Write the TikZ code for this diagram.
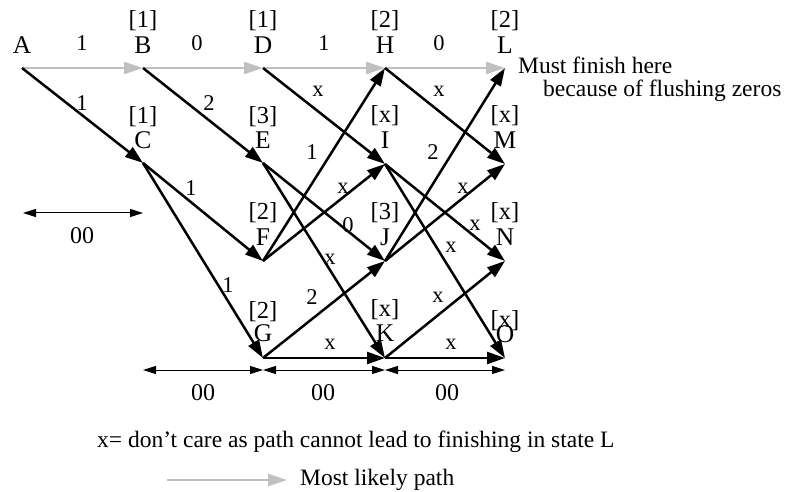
\documentclass[tikz,border=0pt]{standalone}
\usepackage{fontspec}
\setmainfont{Liberation Serif}
\usetikzlibrary{arrows.meta}
\definecolor{pathgray}{RGB}{192,192,192}
\tikzset{
  edge/.style={line width=2.5pt, -{Triangle[length=18pt,width=12pt]}},
  best/.style={line width=2.5pt, draw=pathgray, -{Triangle[length=19pt,width=12pt,fill=pathgray]}},
  dim/.style={line width=1pt, {Triangle[length=13pt,width=8pt]}-{Triangle[length=13pt,width=8pt]}},
  nm/.style={inner sep=0pt, font=\fontsize{25.5}{30}\selectfont},
  br/.style={inner sep=0pt, font=\fontsize{24.5}{30}\selectfont},
  elbl/.style={inner sep=0pt, font=\fontsize{22.5}{26}\selectfont},
  dlbl/.style={inner sep=0pt, font=\fontsize{24}{28}\selectfont},
  txt/.style={inner sep=0pt, font=\fontsize{23.5}{28}\selectfont}
}
\begin{document}
\begin{tikzpicture}[x=1pt,y=-1pt]
\useasboundingbox (0,0) rectangle (785,492);
% trellis points
\coordinate (A) at (22,68);
\coordinate (B) at (143,68);
\coordinate (D) at (263,68);
\coordinate (H) at (385,68);
\coordinate (L) at (505,68);
\coordinate (C) at (143,163);
\coordinate (E) at (263,163);
\coordinate (I) at (385,164);
\coordinate (M) at (505,164);
\coordinate (F) at (263,261);
\coordinate (J) at (385,261);
\coordinate (N) at (505,261);
\coordinate (G) at (263,358);
\coordinate (K) at (385,358);
\coordinate (O) at (505,358);
% state letters
\node[nm] (tA) at (22,45) {A};
\node[nm] (tB) at (143,45) {B};
\node[nm] (tD) at (263,45) {D};
\node[nm] (tH) at (385,45) {H};
\node[nm] (tL) at (505,45) {L};
\node[nm] (tC) at (143,140) {C};
\node[nm] (tE) at (263,140) {E};
\node[nm] (tI) at (385,140) {I};
\node[nm] (tM) at (505,140) {M};
\node[nm] (tF) at (263,237) {F};
\node[nm] (tJ) at (385,237) {J};
\node[nm] (tN) at (505,237) {N};
\node[nm] (tG) at (263,333) {G};
\node[nm] (tK) at (385,333) {K};
\node[nm] (tO) at (505,334) {O};
% metrics
\node[br] (mB) at (143,21) {[1]};
\node[br] (mD) at (263,21) {[1]};
\node[br] (mH) at (385,21) {[2]};
\node[br] (mL) at (505,21) {[2]};
\node[br] (mC) at (143,117) {[1]};
\node[br] (mE) at (263,117) {[3]};
\node[br] (mI) at (385,116) {[x]};
\node[br] (mM) at (505,116) {[x]};
\node[br] (mF) at (263,213) {[2]};
\node[br] (mJ) at (385,213) {[3]};
\node[br] (mN) at (505,213) {[x]};
\node[br] (mG) at (263,312) {[2]};
\node[br] (mK) at (385,310) {[x]};
\node[br] (mO) at (505,321) {[x]};
% most likely path
\draw[best] (A) -- (B);
\draw[best] (B) -- (D);
\draw[best] (D) -- (H);
\draw[best] (H) -- (L);
% other branches
\draw[edge] (A) -- (C);
\draw[edge] (B) -- (E);
\draw[edge] (C) -- (F);
\draw[edge] (C) -- (G);
\draw[edge] (D) -- (I);
\draw[edge] (E) -- (J);
\draw[edge] (E) -- (K);
\draw[edge] (F) -- (H);
\draw[edge] (F) -- (I);
\draw[edge] (G) -- (J);
\draw[edge] (G) -- (K);
\draw[edge] (H) -- (M);
\draw[edge] (I) -- (N);
\draw[edge] (I) -- (O);
\draw[edge] (J) -- (L);
\draw[edge] (J) -- (M);
\draw[edge] (K) -- (N);
\draw[edge] (K) -- (O);
% branch labels
\node[elbl] (eAB) at (82,43) {1};
\node[elbl] (eBD) at (197,43) {0};
\node[elbl] (eDH) at (324,43) {1};
\node[elbl] (eHL) at (439,43) {0};
\node[elbl] (eAC) at (82,103) {1};
\node[elbl] (eBE) at (209,103) {2};
\node[elbl] (eDI) at (318,91) {x};
\node[elbl] (eHM) at (439,91) {x};
\node[elbl] (eCF) at (191,188) {1};
\node[elbl] (eCG) at (228,285) {1};
\node[elbl] (eFH) at (312,152) {1};
\node[elbl] (eJL) at (433,152) {2};
\node[elbl] (eFI) at (343,188) {x};
\node[elbl] (eJM) at (463,188) {x};
\node[elbl] (eEJ) at (348,225) {0};
\node[elbl] (eIN) at (475,225) {x};
\node[elbl] (eEK) at (330,259) {x};
\node[elbl] (eIO) at (451,247) {x};
\node[elbl] (eGJ) at (312,297) {2};
\node[elbl] (eKN) at (438,297) {x};
\node[elbl] (eGK) at (330,344) {x};
\node[elbl] (eKO) at (451,344) {x};
% dimension arrows
\coordinate (d0) at (23,213);
\coordinate (d1) at (143,213);
\draw[dim] (d0) -- (d1);
\node[dlbl] (n0) at (82,236) {00};
\coordinate (b0) at (143,370);
\coordinate (b1) at (263,370);
\coordinate (b2) at (385,370);
\coordinate (b3) at (505,370);
\draw[dim] (b0) -- (b1);
\draw[dim] (b1) -- (b2);
\draw[dim] (b2) -- (b3);
\node[dlbl] (n1) at (203,393) {00};
\node[dlbl] (n2) at (323,393) {00};
\node[dlbl] (n3) at (447,393) {00};
% notes
\node[txt, anchor=base west] (must) at (518,74) {Must finish here};
\node[txt, anchor=base west] (flush) at (543,97) {because of flushing zeros};
\node[txt, anchor=base west] (xnote) at (97,447) {x= don’t care as path cannot lead to finishing in state L};
\coordinate (lg0) at (167,480);
\coordinate (lg1) at (287,480);
\draw[best] (lg0) -- (lg1);
\node[txt, anchor=base west] (lgt) at (300,485) {Most likely path};
\end{tikzpicture}
\end{document}
